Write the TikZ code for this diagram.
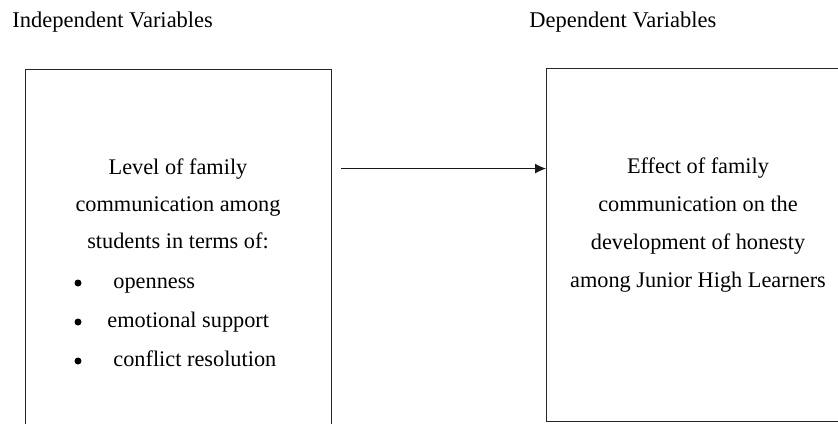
\documentclass[tikz,border=0pt]{standalone}
\usepackage{fontspec}
\setmainfont{Liberation Serif}
\usetikzlibrary{arrows.meta, calc, positioning}

\begin{document}
\begin{tikzpicture}[x=0.5pt, y=-0.5pt,
box/.style={
	rectangle,
	draw = black!85,
	line width = 0.65pt,
	inner sep = 0pt,
	anchor = north west},
heading/.style={
	anchor = base west,
	inner sep = 0pt,
	font = \fontsize{11.25}{13}\selectfont},
line/.style={
	anchor = base,
	inner sep = 0pt,
	font = \fontsize{11.15}{13}\selectfont},
item/.style={
	anchor = base west,
	inner sep = 0pt,
	font = \fontsize{11.15}{13}\selectfont},
dot/.style={
	circle,
	fill = black,
	inner sep = 0pt,
	minimum size = 3.5pt},
link/.style={
	-{Latex[length=5.5pt, width=5pt]},
	line width = 0.5pt,
	draw = black!90}]

\useasboundingbox (0,0) rectangle (838,423);
\clip (0,0) rectangle (838,423);

%Headings
\node[heading] (indhead) at (12,27) {Independent Variables};
\node[heading] (dephead) at (529,27) {Dependent Variables};

%Boxes
\node[box, minimum width = 153pt, minimum height = 188pt]   (ind) at (25,69) {};
\node[box, minimum width = 152pt, minimum height = 176.5pt] (dep) at (546,68) {};

%Left text
\node[line] (lvl)  at (178,174) {Level of family};
\node[line] (comm) at (178,211) {communication among};
\node[line] (stud) at (178,248) {students in terms of:};

\foreach \i/\y/\x/\txt in {1/288/113/openness, 2/327/107/emotional support, 3/366/113/conflict resolution} {
	\node[dot] (b\i) at (78,\y-5) {};
	\node[item] (it\i) at (\x,\y) {\txt};
}

%Right text
\node[line] (eff)  at (698,173) {Effect of family};
\node[line] (comm2) at (698,211) {communication on the};
\node[line] (dev)  at (698,249) {development of honesty};
\node[line] (jhl)  at (698,287) {among Junior High Learners};

%Arrow
\coordinate (start) at ($(ind.east |- lvl)+(9,0)$);
\path[link] (start) to (dep.west |- lvl);

\end{tikzpicture}
\end{document}
